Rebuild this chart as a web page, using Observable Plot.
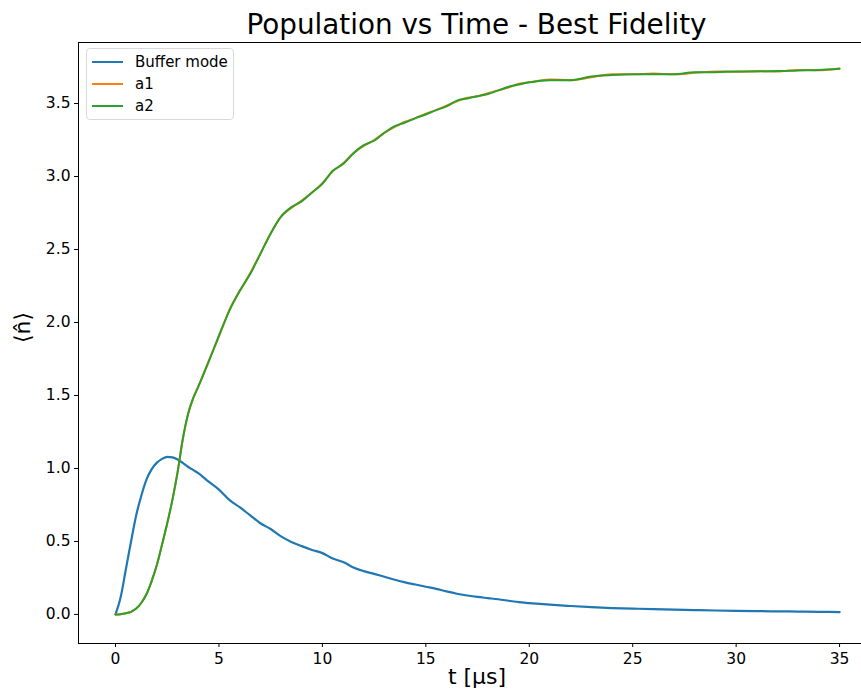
<!DOCTYPE html>
<html>
<head>
<meta charset="utf-8">
<script src="https://cdn.jsdelivr.net/npm/d3@7"></script>
<script src="https://cdn.jsdelivr.net/npm/@observablehq/plot@0.6"></script>
<style>
  html, body { margin: 0; padding: 0; background: #fff; overflow: hidden; }
  body { font-family: "DejaVu Sans", sans-serif; }
  #wrap { position: relative; width: 861px; height: 693px; overflow: hidden; }
  #title { position: absolute; left: 78px; width: 797px; top: 11px; text-align: center;
           font-size: 27.8px; line-height: 27px; color: #000; white-space: nowrap; }
  #chart { position: absolute; left: 0; top: 42px; }
  #legend { position: absolute; left: 86px; top: 48px; width: 148px; height: 72px; box-sizing: border-box;
            border: 1px solid #d9d9d9; border-radius: 4px; background: rgba(255,255,255,0.8); }
  .item { position: absolute; left: 0; height: 20px; font-size: 15px; line-height: 20px; color: #000; }
  .item .sw { position: absolute; left: 5px; top: 9px; width: 31px; height: 2px; }
  .item .lb { position: absolute; left: 48px; top: 0; white-space: nowrap; }
</style>
</head>
<body>
<div id="wrap">
  <div id="title"></div>
  <div id="chart"></div>
  <div id="legend"></div>
</div>
<script>
// ---- data ----
const titleText = "Population vs Time - Best Fidelity";
const xLabel = "t [μs]";
const yLabel = "⟨n̂⟩";
const seriesNames = ["Buffer mode", "a1", "a2"];
const seriesColors = ["#1f77b4", "#ff7f0e", "#2ca02c"];
const xTicks = [0, 5, 10, 15, 20, 25, 30, 35];
const yTicks = [0, 0.5, 1.0, 1.5, 2.0, 2.5, 3.0, 3.5];

const time = [0, 0.25, 0.5, 0.75, 1, 1.25, 1.5, 1.75, 2, 2.25, 2.5, 2.75, 3, 3.25, 3.5, 3.75, 4,
  4.5, 5, 5.5, 6, 6.5, 7, 7.5, 8, 8.5, 9, 9.5, 10, 10.5, 11, 11.5, 12, 12.5, 13, 13.5, 14, 14.5,
  15, 15.5, 16, 16.5, 17, 17.5, 18, 18.5, 19, 19.5, 20, 21, 22, 23, 24, 25, 26, 27, 28, 29, 30,
  31, 32, 33, 34, 35];

const bufferMode = [0, 0.12, 0.31, 0.50, 0.68, 0.815, 0.925, 0.995, 1.04, 1.066, 1.08, 1.076, 1.062,
  1.038, 1.012, 0.99, 0.968, 0.91, 0.855, 0.785, 0.735, 0.68, 0.625, 0.585, 0.535, 0.497, 0.468, 0.442,
  0.42, 0.383, 0.36, 0.322, 0.297, 0.278, 0.258, 0.238, 0.22, 0.205, 0.19, 0.175, 0.158, 0.142, 0.13,
  0.12, 0.112, 0.104, 0.094, 0.084, 0.078, 0.067, 0.058, 0.05, 0.044, 0.04, 0.037, 0.033, 0.03,
  0.027, 0.025, 0.023, 0.021, 0.02, 0.018, 0.016];

const a1 = [0, 0.002, 0.008, 0.018, 0.04, 0.08, 0.14, 0.23, 0.34, 0.48, 0.625, 0.785, 0.975, 1.20,
  1.37, 1.48, 1.56, 1.735, 1.905, 2.085, 2.215, 2.335, 2.47, 2.61, 2.725, 2.785, 2.835, 2.89, 2.955,
  3.035, 3.09, 3.16, 3.21, 3.25, 3.30, 3.34, 3.375, 3.40, 3.43, 3.455, 3.485, 3.515, 3.54, 3.55,
  3.57, 3.59, 3.61, 3.635, 3.645, 3.665, 3.66, 3.68, 3.70, 3.70, 3.705, 3.70, 3.71, 3.72, 3.717,
  3.723, 3.72, 3.73, 3.728, 3.74];

const a2 = [0, 0.002, 0.008, 0.018, 0.04, 0.08, 0.14, 0.23, 0.34, 0.48, 0.625, 0.785, 0.975, 1.20,
  1.37, 1.48, 1.56, 1.73, 1.91, 2.08, 2.215, 2.33, 2.47, 2.61, 2.725, 2.79, 2.83, 2.89, 2.95, 3.04,
  3.085, 3.16, 3.215, 3.245, 3.30, 3.345, 3.37, 3.40, 3.425, 3.455, 3.48, 3.52, 3.535, 3.55, 3.565,
  3.59, 3.615, 3.63, 3.645, 3.66, 3.66, 3.685, 3.695, 3.70, 3.70, 3.70, 3.715, 3.715, 3.72, 3.72,
  3.722, 3.727, 3.73, 3.738];

// ---- build long table ----
const seriesValues = [bufferMode, a1, a2];
const table = [];
seriesNames.forEach((name, k) => {
  time.forEach((t, i) => table.push({t, n: seriesValues[k][i], series: name}));
});

const xDomain = [-1.79, 36.06];
const yDomain = [-0.199, 3.918];

const chart = Plot.plot({
  width: 861,
  height: 651,
  marginTop: 0,
  marginLeft: 78,
  marginRight: 0,
  marginBottom: 50,
  style: {fontFamily: "DejaVu Sans, sans-serif", color: "#000", background: "#fff"},
  x: {domain: xDomain, axis: null},
  y: {domain: yDomain, axis: null},
  color: {domain: seriesNames, range: seriesColors},
  marks: [
    Plot.line(table, {x: "t", y: "n", z: "series", stroke: "series", curve: "monotone-x",
      strokeWidth: d => d.series === "Buffer mode" ? 2.2 : 2}),
    Plot.ruleX([xDomain[0]], {stroke: "#000", strokeWidth: 1}),
    Plot.ruleY([yDomain[0], yDomain[1]], {stroke: "#000", strokeWidth: 1}),
    Plot.axisX({ticks: xTicks, tickSize: 4, tickPadding: 5, fontSize: 15.5, label: null,
      tickFormat: d => String(d)}),
    Plot.axisY({ticks: yTicks, tickSize: 4, tickPadding: 4, fontSize: 15.5, label: null,
      tickFormat: d3.format(".1f")}),
    Plot.text([xLabel], {frameAnchor: "bottom", dy: 40, dx: 7, fontSize: 22, text: d => d}),
    Plot.text([yLabel], {frameAnchor: "left", dx: -56, rotate: -90, fontSize: 22, text: d => d})
  ]
});
document.getElementById("chart").appendChild(chart);
document.getElementById("title").textContent = titleText;

const legend = document.getElementById("legend");
seriesNames.forEach((name, k) => {
  const it = document.createElement("div");
  it.className = "item";
  it.style.top = (3 + k * 22) + "px";
  const sw = document.createElement("span");
  sw.className = "sw";
  sw.style.background = seriesColors[k];
  const lb = document.createElement("span");
  lb.className = "lb";
  lb.textContent = name;
  it.appendChild(sw); it.appendChild(lb);
  legend.appendChild(it);
});
</script>
</body>
</html>
